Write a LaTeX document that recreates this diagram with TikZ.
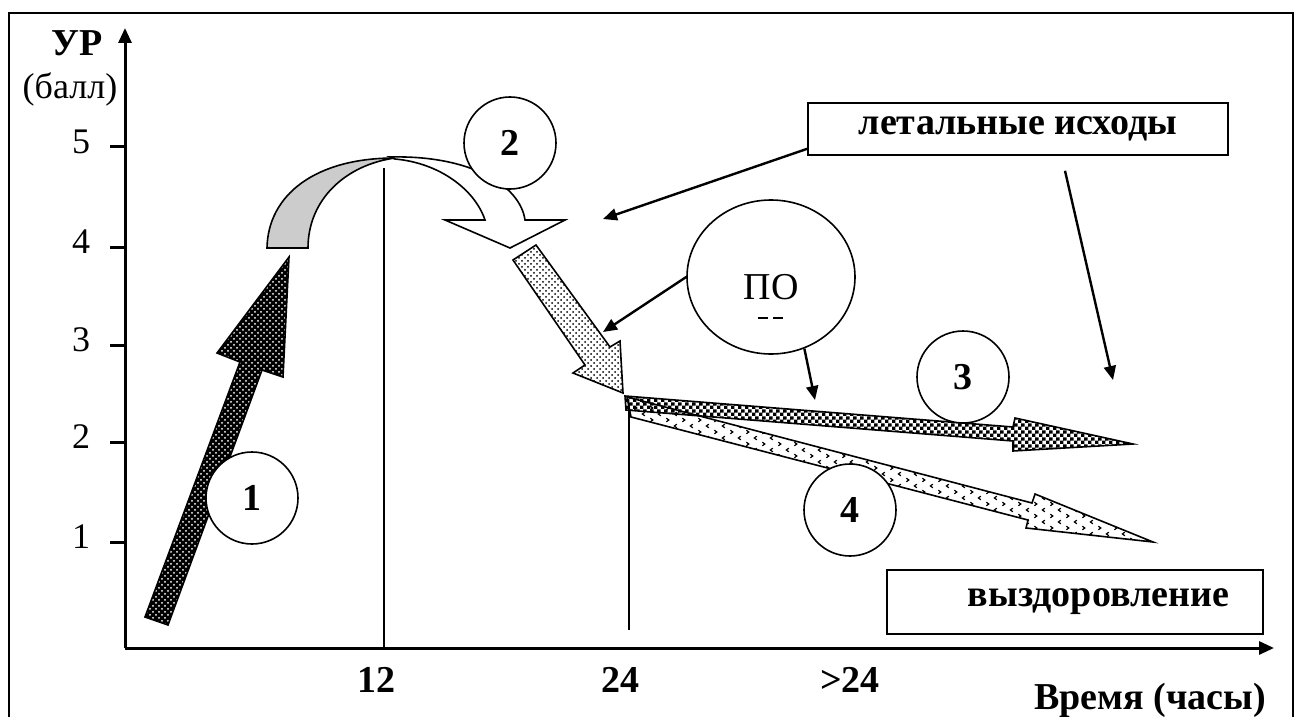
\documentclass[tikz,border=0pt]{standalone}
\usepackage{fontspec}
\setmainfont{Liberation Serif}
\usetikzlibrary{arrows.meta,patterns,shapes.geometric}

% fine checks for the third arrow
\pgfdeclarepatternformonly{finechecks}{\pgfpointorigin}{\pgfqpoint{3.6pt}{3.6pt}}{\pgfqpoint{3.6pt}{3.6pt}}{
  \pgfpathrectangle{\pgfpointorigin}{\pgfqpoint{1.9pt}{1.9pt}}
  \pgfpathrectangle{\pgfqpoint{1.8pt}{1.8pt}}{\pgfqpoint{1.9pt}{1.9pt}}
  \pgfusepath{fill}
}
% small chevron marks for the fourth arrow
\pgfdeclarepatternformonly{chevrons}{\pgfqpoint{-0.5pt}{-0.5pt}}{\pgfqpoint{8.5pt}{6.5pt}}{\pgfqpoint{8pt}{6pt}}{
  \pgfsetlinewidth{0.6pt}
  \pgfpathmoveto{\pgfqpoint{2.4pt}{0.6pt}}
  \pgfpathlineto{\pgfqpoint{1.2pt}{1.5pt}}
  \pgfpathlineto{\pgfqpoint{2.4pt}{2.4pt}}
  \pgfpathmoveto{\pgfqpoint{5.2pt}{3.6pt}}
  \pgfpathlineto{\pgfqpoint{6.4pt}{4.5pt}}
  \pgfpathlineto{\pgfqpoint{5.2pt}{5.4pt}}
  \pgfusepath{stroke}
}

\tikzset{
  axisline/.style={line width=1.5pt, -{Triangle[length=7.5pt,width=6.5pt]}},
  guide/.style={line width=0.8pt},
  band/.style={draw, line width=0.8pt, line join=miter},
  conn/.style={line width=1.2pt, -{Triangle[length=7pt,width=6pt]}},
  ticklab/.style={inner sep=0pt, font=\fontsize{18}{21}\selectfont},
  boldlab/.style={inner sep=0pt, font=\fontsize{19}{22}\selectfont\bfseries},
  num/.style={circle, draw, fill=white, line width=0.8pt, minimum size=46pt,
    inner sep=0pt, font=\fontsize{19}{22}\selectfont\bfseries},
  legend/.style={draw, fill=white, line width=0.8pt,
    font=\fontsize{19}{22}\selectfont\bfseries}
}

\begin{document}
\begin{tikzpicture}[x=0.5pt, y=-0.5pt]
  \useasboundingbox (0,0) rectangle (1301,717);
  \draw[line width=1pt] (9,717) -- (9,13) -- (1293,13) -- (1293,717);

  % axes
  \coordinate (o) at (125,648);
  \coordinate (ytop) at (125,28);
  \coordinate (xend) at (1274,648);
  \draw[axisline] (o) -- (ytop);
  \draw[axisline] (o) -- (xend);
  \foreach \yy/\lab in {147/5, 247/4, 345/3, 442/2, 542/1} {
    \draw[line width=1.5pt] (110,\yy) -- (125,\yy);
    \node[ticklab] (t\lab) at (81,\yy-5) {\lab};
  }
  \node[boldlab] (ur) at (77,43) {УР};
  \node[ticklab] (ball) at (70,89) {(балл)};
  \foreach \xx/\lab/\nm in {376/12/a, 620/24/b, 850/>24/c}
    \node[boldlab] (h\nm) at (\xx,680) {\lab};
  \node[boldlab] (time) at (1150,700) {Время (часы)};

  % time marks
  \draw[guide] (384,168) -- (384,648);
  \draw[guide] (629,405) -- (629,630);

  % 1
  \draw[band, preaction={fill=black}, pattern=crosshatch dots, pattern color=white]
    (145,617) -- (240,362) -- (217,353) -- (289,257) -- (283,377) -- (262,370) -- (168,625) -- cycle;
  % 2
  \draw[band, fill=black!20] (267,248) .. controls (268,195) and (315,158) .. (395,158)
    .. controls (345,165) and (308,200) .. (308,248) -- cycle;
  \draw[band, fill=white] (390,157) .. controls (470,155) and (520,185) .. (525,220)
    -- (565,220) -- (510,248) -- (445,220) -- (485,220)
    .. controls (475,190) and (440,163) .. (395,159) -- cycle;
  \draw[band, pattern=crosshatch dots]
    (513,260) -- (585,365) -- (573,373) -- (623,393) -- (620,341) -- (610,347) -- (536,245) -- cycle;
  % 3 and 4
  \draw[band, pattern=finechecks]
    (625,396) -- (1013,427) -- (1015,418) -- (1133,444) -- (1013,451) -- (1013,441) -- (626,410) -- cycle;
  \draw[band, pattern=chevrons]
    (627,397) -- (1032,503) -- (1035,494) -- (1153,542) -- (1026,528) -- (1028,520) -- (631,417) -- cycle;

  % numbered circles
  \node[num] (c1) at (252,498) {1};
  \node[num] (c2) at (510,143) {2};
  \node[num] (c3) at (963,377) {3};
  \node[num] (c4) at (850,510) {4};

  \node[ellipse, draw, fill=white, line width=0.8pt, minimum width=84pt, minimum height=77pt,
    text height=23pt, font=\fontsize{19}{22}\selectfont] (po) at (771,277) {ПО};
  \draw[line width=1.2pt] (758,318) -- (768,318);
  \draw[line width=1.2pt] (773,318) -- (783,318);

  \node[legend, minimum width=210pt, minimum height=26pt] (letal) at (1018,129) {летальные исходы};
  \node[legend, minimum height=32pt, text width=154pt, align=right, inner xsep=17pt]
    (vyzd) at (1075,602) {выздоровление};

  % pointers
  \coordinate (headtwo) at (603,219);
  \coordinate (endtwo) at (1113,380);
  \coordinate (slant) at (603,332);
  \coordinate (three) at (815,400);
  \draw[conn] ([shift={(0,-7)}]letal.south west) -- (headtwo);
  \draw[conn] ([shift={(47,15)}]letal.south) -- (endtwo);
  \draw[conn] (po.west) -- (slant);
  \draw[conn] (po.-65) -- (three);
\end{tikzpicture}
\end{document}
